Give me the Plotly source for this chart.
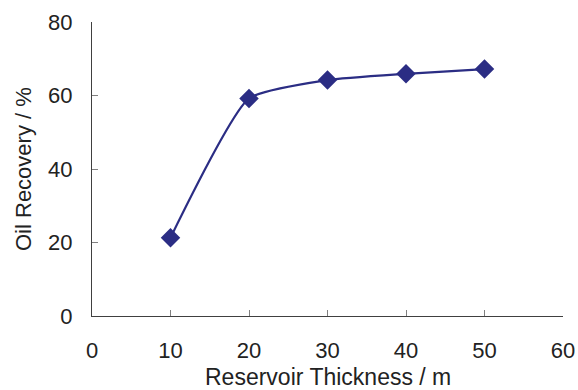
import plotly.graph_objects as go

thickness = [10, 20, 30, 40, 50]
recovery = [21.3, 59.2, 64.2, 65.9, 67.2]
x_ticks = [0, 10, 20, 30, 40, 50, 60]
y_ticks = [0, 20, 40, 60, 80]

color = "#2B2D84"
font = "Liberation Sans, Arial, sans-serif"
text_color = "#222222"

fig = go.Figure(go.Scatter(
    x=thickness, y=recovery, mode="lines+markers",
    line=dict(color=color, width=2.2, shape="spline", smoothing=0.5),
    marker=dict(symbol="diamond", size=15, color=color),
))

axis_common = dict(
    showline=True, linecolor="#404040", linewidth=1.3,
    ticks="inside", ticklen=6, tickcolor="#808080", tickwidth=1,
    showgrid=False, zeroline=False, mirror=False, automargin=False,
    tickfont=dict(family=font, size=22, color=text_color),
)

fig.update_layout(
    width=578, height=390,
    margin=dict(l=92, r=15, t=22, b=74),
    paper_bgcolor="white", plot_bgcolor="white",
    showlegend=False,
    xaxis=dict(range=[0, 60], tickvals=x_ticks, ticklabelstandoff=14, **axis_common),
    yaxis=dict(range=[0, 80], tickvals=y_ticks, ticklabelstandoff=14, **axis_common),
    annotations=[
        dict(text="Reservoir Thickness / m", xref="paper", yref="paper",
             x=0.5, y=-0.2075, xanchor="center", yanchor="middle", showarrow=False,
             font=dict(family=font, size=23, color=text_color)),
        dict(text="Oil Recovery / %", xref="paper", yref="paper",
             x=-0.1465, y=0.5, xanchor="center", yanchor="middle", showarrow=False,
             textangle=-90, font=dict(family=font, size=22, color=text_color)),
    ],
)

fig.write_html("out.html", config={"displayModeBar": False},
               post_script="document.body.style.margin='0';document.body.style.overflow='hidden';")
